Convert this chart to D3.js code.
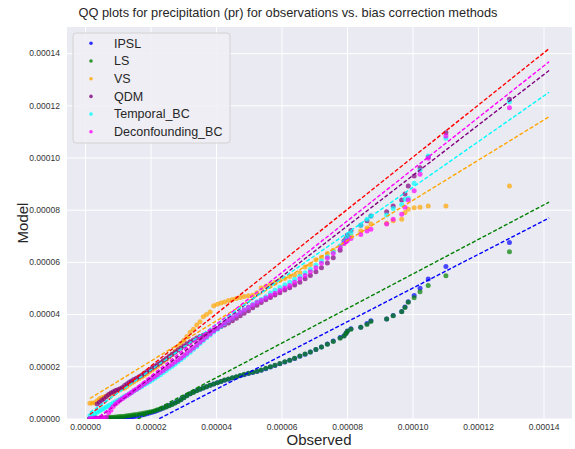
<!DOCTYPE html>
<html>
<head>
<meta charset="utf-8">
<script src="https://cdn.jsdelivr.net/npm/d3@7"></script>
<style>
body{margin:0;background:#fff;}
text{font-family:"Liberation Sans",Arial,sans-serif;}
</style>
</head>
<body>
<script>
// values are in units of 1e-5 (kg m-2 s-1)
var unit = 1e-5;

// observed quantiles (shared x of every QQ series)
var observed = [0.15,0.22,0.30,0.37,0.44,0.51,0.58,0.65,0.72,0.79,
  0.86,0.93,1.00,1.07,1.14,1.21,1.28,1.35,1.42,1.49,
  1.57,1.65,1.73,1.81,1.89,1.97,2.05,2.13,2.21,2.30,
  2.39,2.48,2.57,2.66,2.75,2.84,2.93,3.02,3.11,3.21,
  3.31,3.41,3.51,3.61,3.71,3.82,3.93,4.04,4.15,4.26,
  4.38,4.50,4.62,4.74,4.86,4.99,5.12,5.25,5.38,5.52,
  5.66,5.80,5.95,6.10,6.25,6.40,6.56,6.72,6.88,7.05,
  7.22,7.40,7.58,7.79,7.91,7.97,8.01,8.12,8.42,8.61,
  8.73,9.21,9.41,9.67,9.77,9.87,10.05,10.23,10.48,11.02,
  12.96];

var ipsl = [0,0,0,0,0,0,0,0,0,0,
  0,0,0,0.01,0.01,0.02,0.03,0.04,0.05,0.07,
  0.09,0.11,0.13,0.15,0.18,0.21,0.24,0.27,0.31,0.35,
  0.40,0.45,0.50,0.55,0.60,0.66,0.73,0.80,0.88,0.95,
  1.01,1.07,1.12,1.17,1.22,1.27,1.32,1.37,1.42,1.46,
  1.50,1.55,1.59,1.64,1.68,1.72,1.76,1.80,1.85,1.91,
  1.97,2.03,2.10,2.16,2.23,2.30,2.38,2.46,2.55,2.64,
  2.74,2.85,2.97,3.10,3.17,3.27,3.35,3.44,3.50,3.64,
  3.74,3.81,3.95,4.10,4.27,4.47,4.71,4.99,5.34,5.82,
  6.74];

var ls = [0,0,0,0.01,0.01,0.02,0.02,0.03,0.04,0.05,
  0.05,0.06,0.07,0.08,0.08,0.09,0.10,0.11,0.12,0.14,
  0.15,0.17,0.19,0.21,0.23,0.25,0.27,0.30,0.33,0.36,
  0.40,0.44,0.49,0.54,0.59,0.65,0.72,0.79,0.87,0.95,
  1.00,1.06,1.12,1.17,1.22,1.27,1.32,1.37,1.42,1.47,
  1.51,1.56,1.60,1.65,1.69,1.73,1.77,1.81,1.86,1.92,
  1.98,2.04,2.11,2.17,2.23,2.31,2.39,2.47,2.55,2.64,
  2.74,2.84,2.95,3.07,3.16,3.26,3.34,3.42,3.50,3.60,
  3.72,3.81,3.94,4.09,4.25,4.45,4.63,4.86,5.10,5.47,
  6.39];

var vs = [0.58,0.59,0.60,0.68,0.76,0.79,0.82,0.86,0.90,0.95,
  0.99,1.04,1.08,1.11,1.14,1.17,1.23,1.30,1.36,1.41,
  1.47,1.53,1.59,1.65,1.71,1.79,1.86,1.92,2.00,2.10,
  2.18,2.26,2.36,2.45,2.58,2.72,2.88,3.00,3.14,3.30,
  3.42,3.58,3.71,3.90,3.98,4.08,4.32,4.38,4.42,4.46,
  4.52,4.56,4.60,4.64,4.67,4.70,4.72,4.82,5.00,5.07,
  5.14,5.22,5.30,5.36,5.44,5.50,5.58,5.80,5.90,6.08,
  6.18,6.32,6.45,6.58,6.71,6.80,6.88,7.00,7.18,7.30,
  7.45,7.48,7.58,7.63,7.89,8.02,8.07,8.09,8.14,8.14,
  8.91];

var qdm = [0,0.02,0.05,0.55,0.62,0.70,0.76,0.84,0.92,0.98,
  1.02,1.07,1.10,1.14,1.19,1.26,1.32,1.39,1.44,1.49,
  1.54,1.60,1.66,1.73,1.80,1.87,1.93,2.00,2.07,2.14,
  2.22,2.30,2.38,2.46,2.54,2.62,2.70,2.78,2.86,2.94,
  3.01,3.08,3.14,3.19,3.24,3.31,3.38,3.45,3.52,3.58,
  3.66,3.74,3.84,3.94,4.03,4.13,4.24,4.34,4.44,4.55,
  4.64,4.73,4.82,4.92,5.01,5.11,5.22,5.35,5.48,5.62,
  5.78,5.96,6.16,6.45,6.80,6.90,7.03,7.20,7.40,7.58,
  7.76,7.92,8.14,8.37,8.60,8.91,9.29,9.61,10.02,10.95,
  12.23];

var temporal = [0.10,0.14,0.19,0.24,0.29,0.34,0.39,0.44,0.49,0.54,
  0.59,0.64,0.69,0.74,0.79,0.84,0.89,0.94,1.00,1.05,
  1.11,1.17,1.23,1.29,1.35,1.41,1.47,1.54,1.61,1.68,
  1.76,1.84,1.92,2.00,2.08,2.17,2.26,2.35,2.44,2.54,
  2.65,2.76,2.87,2.98,3.09,3.20,3.31,3.42,3.53,3.64,
  3.75,3.86,3.97,4.07,4.17,4.27,4.37,4.47,4.56,4.66,
  4.81,4.91,5.02,5.12,5.22,5.33,5.45,5.58,5.72,5.88,
  6.03,6.20,6.38,6.62,6.75,6.85,6.97,7.12,7.40,7.63,
  7.76,7.80,8.05,8.20,8.40,8.44,9.01,9.50,10.06,10.74,
  12.14];

var deconf = [0,0,0,0,0.01,0.02,0.03,0.05,0.22,0.32,
  0.46,0.55,0.62,0.70,0.76,0.82,0.88,0.94,1.00,1.06,
  1.12,1.19,1.26,1.33,1.40,1.47,1.54,1.61,1.68,1.76,
  1.84,1.92,2.00,2.08,2.16,2.24,2.32,2.41,2.50,2.60,
  2.70,2.81,2.92,3.03,3.13,3.24,3.35,3.46,3.56,3.66,
  3.76,3.86,3.96,4.06,4.16,4.26,4.35,4.44,4.53,4.62,
  4.71,4.80,4.90,5.00,5.10,5.22,5.35,5.48,5.62,5.78,
  5.95,6.15,6.32,6.55,6.70,6.77,6.82,6.90,7.05,7.18,
  7.25,7.45,7.63,7.83,8.09,8.37,8.73,9.36,9.97,10.82,
  11.91];

var seriesNames = ["IPSL","LS","VS","QDM","Temporal_BC","Deconfounding_BC"];
var seriesColors = ["blue","green","orange","purple","cyan","magenta"];
var seriesValues = [ipsl, ls, vs, qdm, temporal, deconf];

// dashed fit lines (slope, intercept in 1e-5 units), drawn over the observed range
var fitSlope = [0.646, 0.662, 0.770, 0.967, 0.875, 0.990];
var fitIntercept = [-1.47, -1.09, 0.65, -0.37, 0.10, -0.36];
var obsRange = [0.15, 14.17];

var xTicks = [0,2,4,6,8,10,12,14];
var yTicks = [0,2,4,6,8,10,12,14];

var W = 575, H = 449;
var plotL = 67, plotR = 572, plotT = 27, plotB = 419;

var svg = d3.select("body").append("svg")
  .attr("width", W).attr("height", H);

var x = d3.scaleLinear().domain([-0.55*unit, 14.87*unit]).range([plotL, plotR]);
var y = d3.scaleLinear().domain([-0.02*unit, 15.0*unit]).range([plotB, plotT]);

svg.append("defs").append("clipPath").attr("id","clip")
  .append("rect").attr("x", plotL).attr("y", plotT)
  .attr("width", plotR-plotL).attr("height", plotB-plotT);

svg.append("rect").attr("x", plotL).attr("y", plotT)
  .attr("width", plotR-plotL).attr("height", plotB-plotT)
  .attr("fill", "#EAEAF2");

var fmt = function(d){ return d.toFixed(5); };

var xAxis = d3.axisBottom(x).tickValues(xTicks.map(function(t){return t*unit;}))
  .tickSize(-(plotB-plotT)).tickPadding(5).tickFormat(fmt);
var yAxis = d3.axisLeft(y).tickValues(yTicks.map(function(t){return t*unit;}))
  .tickSize(-(plotR-plotL)).tickPadding(7).tickFormat(fmt);

var gx = svg.append("g").attr("transform","translate(0,"+plotB+")").call(xAxis);
var gy = svg.append("g").attr("transform","translate("+plotL+",0)").call(yAxis);
[gx, gy].forEach(function(g){
  g.select(".domain").remove();
  g.selectAll("line").attr("stroke","#fff").attr("stroke-width",1);
  g.selectAll("text").attr("fill","#333").style("font-size","8.5px")
   .style("font-family","'Liberation Sans',Arial,sans-serif");
});

var plot = svg.append("g").attr("clip-path","url(#clip)");

seriesValues.forEach(function(vals, s){
  plot.append("g").selectAll("circle")
    .data(vals)
    .enter()
    .append("circle")
    .attr("cx", function(d,i){ return x(observed[i]*unit); })
    .attr("cy", function(d){ return y(d*unit); })
    .attr("r", 2.5)
    .attr("fill", seriesColors[s])
    .attr("fill-opacity", 0.7);
});

var line = d3.line()
  .x(function(d){ return x(d[0]); })
  .y(function(d){ return y(d[1]); });

// 1:1 reference
plot.append("path")
  .attr("d", line(obsRange.map(function(v){ return [v*unit, v*unit]; })))
  .attr("fill","none").attr("stroke","red")
  .attr("stroke-width",1.4).attr("stroke-dasharray","4,2");

seriesColors.forEach(function(c, s){
  plot.append("path")
    .attr("d", line(obsRange.map(function(v){
      return [v*unit, (fitSlope[s]*v + fitIntercept[s])*unit];
    })))
    .attr("fill","none").attr("stroke", c)
    .attr("stroke-width",1.4).attr("stroke-dasharray","4,2");
});

// legend
var leg = svg.append("g");
leg.append("rect").attr("x",73).attr("y",33).attr("width",157).attr("height",110)
  .attr("rx",3).attr("fill","#EEEEF4").attr("fill-opacity",0.9)
  .attr("stroke","#ccc").attr("stroke-width",0.8);
seriesNames.forEach(function(n, i){
  leg.append("circle").attr("cx",91).attr("cy",43.3+i*17.7).attr("r",1.8)
    .attr("fill",seriesColors[i]).attr("fill-opacity",0.8);
  leg.append("text").attr("x",114).attr("y",43.3+i*17.7).attr("dy","0.35em")
    .style("font-size","12.5px").attr("fill","#262626").text(n);
});

svg.append("text").attr("x",288).attr("y",16.5).attr("text-anchor","middle")
  .style("font-size","12.8px").attr("fill","#262626")
  .text("QQ plots for precipitation (pr) for observations vs. bias correction methods");

svg.append("text").attr("x",319).attr("y",445).attr("text-anchor","middle")
  .style("font-size","15px").attr("fill","#262626").text("Observed");

svg.append("text").attr("transform","translate(28,223) rotate(-90)")
  .attr("text-anchor","middle")
  .style("font-size","15px").attr("fill","#262626").text("Model");
</script>
</body>
</html>
